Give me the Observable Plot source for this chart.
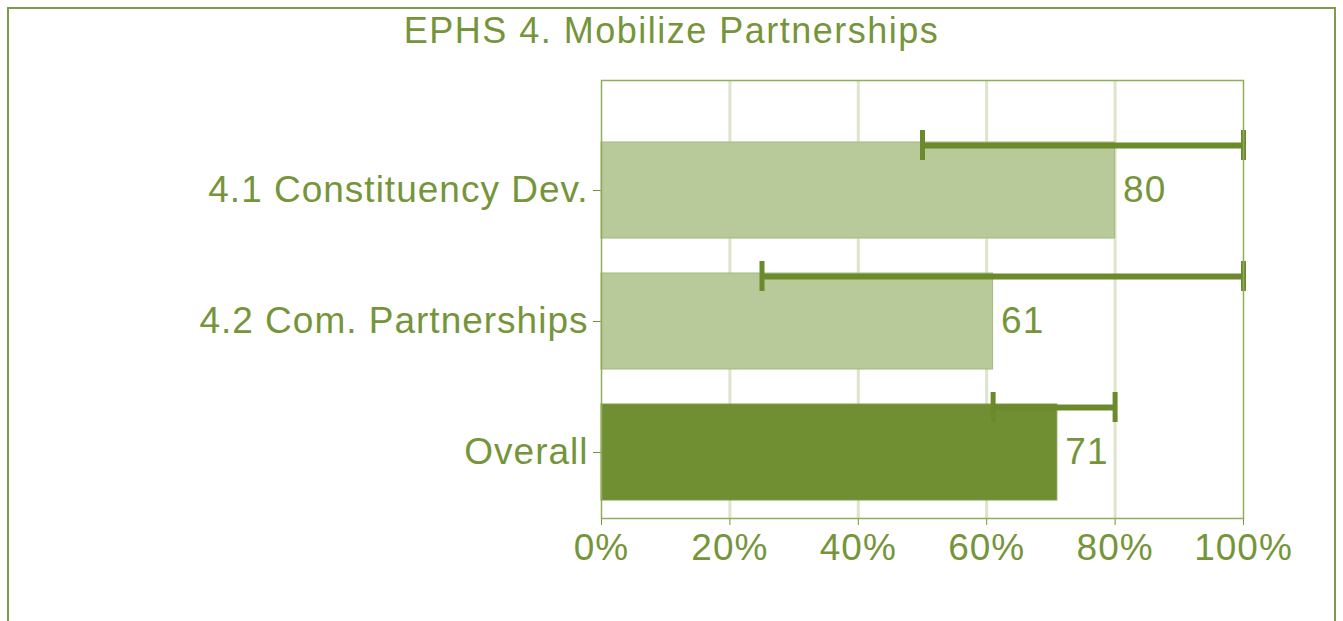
<!DOCTYPE html>
<html>
<head>
<meta charset="utf-8">
<script src="https://cdn.jsdelivr.net/npm/d3@7"></script>
<script src="https://cdn.jsdelivr.net/npm/@observablehq/plot@0.6"></script>
<style>
  html, body { margin: 0; padding: 0; background: #fff; }
  #wrap { position: relative; width: 1343px; height: 621px; overflow: hidden; font-family: "Liberation Sans", Arial, sans-serif; }
  #border { position: absolute; left: 7px; top: 7px; width: 1329px; height: 700px; border: 2px solid #7d9c48; box-sizing: border-box; }
  #title { position: absolute; left: 0; top: 11px; width: 1343px; text-align: center; font-size: 36px; letter-spacing: 1.5px; color: #76953b; line-height: 40px; }
  #chart { position: absolute; left: 0; top: 0; }
</style>
</head>
<body>
<div id="wrap">
  <div id="border"></div>
  <div id="chart"></div>
  <div id="title">EPHS 4. Mobilize Partnerships</div>
</div>
<script>
const categories = ["4.1 Constituency Dev.", "4.2 Com. Partnerships", "Overall"];
const values = [80, 61, 71];
const errLow = [50, 25, 61];
const errHigh = [100, 100, 80];
const xTicks = [0, 20, 40, 60, 80, 100];
const gridTicks = [20, 40, 60, 80];

const data = categories.map((c, i) => ({cat: c, value: values[i], lo: errLow[i], hi: errHigh[i], overall: c === "Overall"}));

const green = "#76953b";
const dark = "#6f8f32";
const light = "#b8c99a";

const chart = Plot.plot({
  width: 1343,
  height: 621,
  marginLeft: 601,
  marginRight: 100,
  marginTop: 80,
  marginBottom: 103,
  style: {fontFamily: "Liberation Sans, Arial, sans-serif", fontSize: "37px", letterSpacing: "1px", color: green, background: "transparent"},
  x: {domain: [0, 100], ticks: xTicks, tickFormat: d => d + "%", tickSize: 7, tickPadding: 8, label: null},
  y: {domain: categories, range: [124, 517], paddingInner: 0.27, paddingOuter: 0.135, tickSize: 8, tickPadding: 5, label: null},
  marks: [
    Plot.ruleX(gridTicks, {stroke: "#dde3cc", strokeWidth: 3}),
    Plot.barX(data, {x: "value", y: "cat", fill: d => d.overall ? dark : light, stroke: d => d.overall ? "#7f9c4a" : "#a2b97c", strokeWidth: 1}),
    Plot.ruleY(data, {x1: "lo", x2: "hi", y: "cat", dy: -45, stroke: "#6b8a2c", strokeWidth: 6}),
    Plot.tickX(data, {x: "lo", y: "cat", dy: -45, insetTop: 33, insetBottom: 33, stroke: "#6b8a2c", strokeWidth: 5}),
    Plot.tickX(data, {x: "hi", y: "cat", dy: -45, insetTop: 33, insetBottom: 33, stroke: "#6b8a2c", strokeWidth: 5}),
    Plot.text(data, {x: "value", y: "cat", text: d => String(d.value), dx: 8, textAnchor: "start", fill: green, fontSize: 37}),
    Plot.frame({stroke: "#8fad5a", strokeWidth: 1.5})
  ]
});
document.getElementById("chart").appendChild(chart);
</script>
</body>
</html>
